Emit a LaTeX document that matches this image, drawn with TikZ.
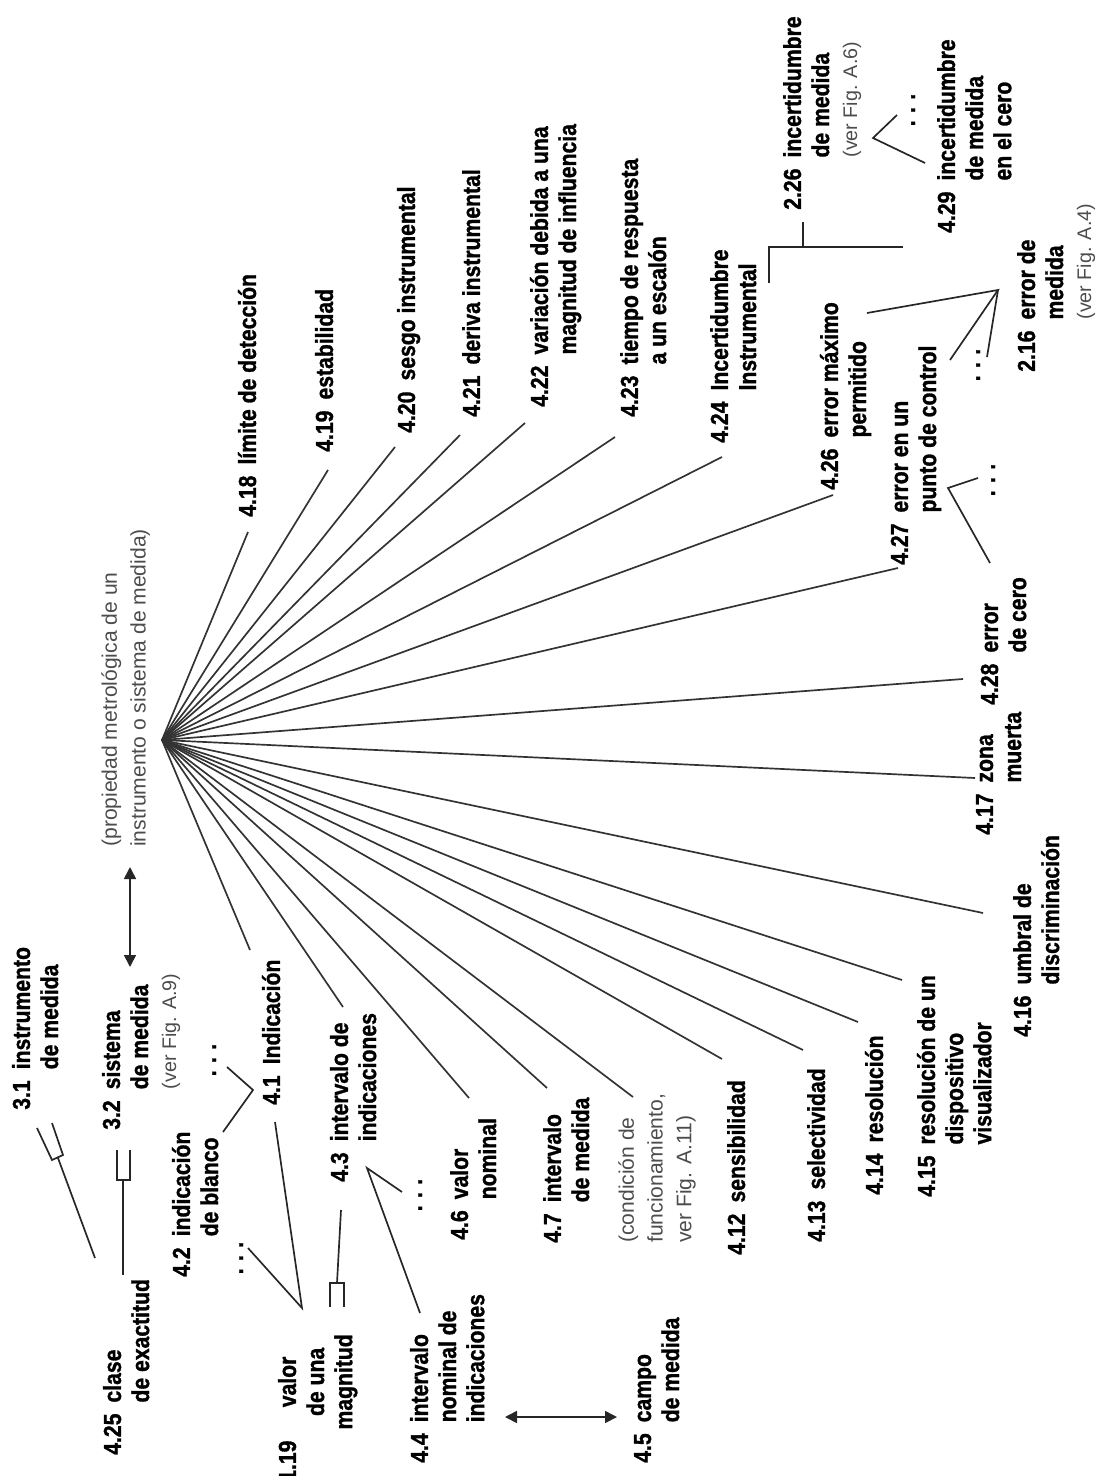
\documentclass[tikz,border=0pt]{standalone}
\usepackage{fontspec}
\setmainfont{Liberation Sans}
\newfontfamily\termfont[FakeStretch=0.86, BoldFeatures={FakeBold=1.2}]{Liberation Sans}
\usetikzlibrary{arrows.meta}

\definecolor{notegray}{gray}{0.3}
\newcommand{\vimterm}[3][l]{#2\hspace{0.45em}\begin{tabular}[t]{@{}#1@{}}#3\end{tabular}}
\newcommand{\vimnote}[1]{{\normalfont\fontsize{14}{20}\selectfont\color{notegray}#1}}
\newcommand{\etc}{.\hspace{0.3em}.\hspace{0.3em}.}

\begin{document}
\begin{tikzpicture}[x=0.25mm, y=-0.25mm,
    fan/.style={draw=black!80, line width=1.2pt},
    rel/.style={draw=black!85, line width=1.2pt},
    vimlabel/.style={rotate=90, anchor=north west, inner sep=0pt,
      font=\termfont\bfseries\fontsize{17.5}{20}\selectfont},
    vimremark/.style={rotate=90, anchor=north west, inner sep=0pt, align=left,
      text=notegray, font=\fontsize{15}{20.5}\selectfont},
    etcdots/.style={rotate=90, anchor=base, inner sep=0pt,
      font=\termfont\bfseries\fontsize{17.5}{20}\selectfont},
    twoway/.style={<->, >={Triangle[length=3mm,width=3mm]}, line width=1.2pt, draw=black!85}]
    \useasboundingbox (0,0) rectangle (1100,1476);

    % Centre of the fan
    \coordinate (hub) at (162,740);
    \node[vimremark] (prop) at (101,847) {(propiedad metrológica de un\\instrumento o sistema de medida)};

    % Labels round the fan
    \node[vimlabel] (n418) at (236,517) {\vimterm{4.18}{límite de detección}};
    \node[vimlabel] (n419) at (313,452) {\vimterm{4.19}{estabilidad}};
    \node[vimlabel] (n420) at (395,433) {\vimterm{4.20}{sesgo instrumental}};
    \node[vimlabel] (n421) at (460,417) {\vimterm{4.21}{deriva instrumental}};
    \node[vimlabel] (n422) at (528,407) {\vimterm{4.22}{variación debida a una\\magnitud de influencia}};
    \node[vimlabel] (n423) at (618,417) {\vimterm{4.23}{tiempo de respuesta\\a un escalón}};
    \node[vimlabel] (n424) at (708,443) {\vimterm{4.24}{Incertidumbre\\Instrumental}};
    \node[vimlabel] (n426) at (818,490) {\vimterm{4.26}{error máximo\\permitido}};
    \node[vimlabel] (n427) at (888,565) {\vimterm{4.27}{error en un\\punto de control}};
    \node[vimlabel] (n428) at (978,705) {\vimterm{4.28}{error\\de cero}};
    \node[vimlabel] (n417) at (973,835) {\vimterm{4.17}{zona\\muerta}};
    \node[vimlabel] (n416) at (1011,1037) {\vimterm{4.16}{umbral de\\discriminación}};
    \node[vimlabel] (n415) at (915,1197) {\vimterm{4.15}{resolución de un\\dispositivo\\visualizador}};
    \node[vimlabel] (n414) at (863,1195) {\vimterm{4.14}{resolución}};
    \node[vimlabel] (n413) at (805,1242) {\vimterm{4.13}{selectividad}};
    \node[vimlabel] (n412) at (725,1255) {\vimterm{4.12}{sensibilidad}};
    \node[vimremark] (cond) at (618,1243) {(condición de\\funcionamiento,\\ver Fig. A.11)};
    \node[vimlabel] (n47) at (541,1243) {\vimterm{4.7}{intervalo\\de medida}};
    \node[vimlabel] (n46) at (448,1240) {\vimterm{4.6}{valor\\nominal}};
    \node[vimlabel] (n43) at (328,1182) {\vimterm{4.3}{intervalo de\\indicaciones}};
    \node[vimlabel] (n41) at (260,1105) {\vimterm{4.1}{Indicación}};

    % Labels on the left and at the top
    \node[vimlabel] (n31) at (10,1110) {\vimterm{3.1}{instrumento\\de medida}};
    \node[vimlabel] (n32) at (100,1130) {\vimterm{3.2}{sistema\\de medida\\\vimnote{(ver Fig. A.9)}}};
    \node[vimlabel] (n425) at (101,1455) {\vimterm{4.25}{clase\\de exactitud}};
    \node[vimlabel] (n42) at (170,1277) {\vimterm{4.2}{indicación\\de blanco}};
    \node[vimlabel] (n119) at (276,1482) {\vimterm[c]{1.19}{valor\\de una\\magnitud}};
    \node[vimlabel] (n44) at (408,1463) {\vimterm{4.4}{intervalo\\nominal de\\indicaciones}};
    \node[vimlabel] (n45) at (631,1463) {\vimterm{4.5}{campo\\de medida}};
    \node[vimlabel] (n226) at (781,210) {\vimterm{2.26}{incertidumbre\\de medida\\\vimnote{(ver Fig. A.6)}}};
    \node[vimlabel] (n229) at (935,233) {\vimterm{4.29}{incertidumbre\\de medida\\en el cero}};
    \node[vimlabel] (n216) at (1015,372) {\vimterm{2.16}{error de\\medida\\\vimnote{(ver Fig. A.4)}}};

    % Dots for further concepts
    \node[etcdots] (d41) at (216,1060) {\etc};
    \node[etcdots] (d119) at (243,1258) {\etc};
    \node[etcdots] (d43) at (422,1195) {\etc};
    \node[etcdots] (d226) at (915,110) {\etc};
    \node[etcdots] (d427) at (995,480) {\etc};
    \node[etcdots] (d216) at (980,365) {\etc};

    % Ends of the fan lines
    \coordinate (e418) at (248,532);
    \coordinate (e419) at (328,470);
    \coordinate (e420) at (395,447);
    \coordinate (e421) at (460,435);
    \coordinate (e422) at (525,423);
    \coordinate (e423) at (615,437);
    \coordinate (e424) at (722,457);
    \coordinate (e426) at (833,495);
    \coordinate (e427) at (898,568);
    \coordinate (e428) at (963,679);
    \coordinate (e417) at (975,778);
    \coordinate (e416) at (983,913);
    \coordinate (e415) at (902,980);
    \coordinate (e414) at (858,1022);
    \coordinate (e413) at (803,1050);
    \coordinate (e412) at (722,1059);
    \coordinate (econd) at (633,1097);
    \coordinate (e47) at (547,1088);
    \coordinate (e46) at (469,1098);
    \coordinate (e43) at (343,1007);
    \coordinate (e41) at (250,950);

    \foreach \e in {e418,e419,e420,e421,e422,e423,e424,e426,e427,e428,e417,
        e416,e415,e414,e413,e412,econd,e47,e46,e43,e41}
        \draw[fan] (hub) -- (\e);

    % Ends of the relation lines
    \coordinate (f31a) at (37,1128);
    \coordinate (f31b) at (52,1160);
    \coordinate (f31c) at (63,1155);
    \coordinate (f31d) at (52,1123);
    \coordinate (f31s) at (58,1158);
    \coordinate (f425a) at (95,1258);
    \coordinate (f32a) at (117,1150);
    \coordinate (f32b) at (117,1180);
    \coordinate (f32c) at (130,1180);
    \coordinate (f32d) at (130,1150);
    \coordinate (f32s) at (123,1180);
    \coordinate (f425b) at (123,1275);
    \coordinate (f43) at (341,1210);
    \coordinate (f119s) at (337,1283);
    \coordinate (f119a) at (330,1307);
    \coordinate (f119b) at (330,1283);
    \coordinate (f119c) at (344,1283);
    \coordinate (f119d) at (344,1307);
    \coordinate (a42) at (223,1132);
    \coordinate (v41) at (253,1090);
    \coordinate (a41) at (227,1067);
    \coordinate (a41b) at (275,1122);
    \coordinate (v119) at (302,1308);
    \coordinate (a119) at (248,1248);
    \coordinate (v43) at (367,1168);
    \coordinate (a43) at (402,1192);
    \coordinate (a44) at (420,1313);
    \coordinate (v226) at (873,138);
    \coordinate (a226) at (897,115);
    \coordinate (a229) at (925,163);
    \coordinate (v427) at (948,488);
    \coordinate (a427) at (978,478);
    \coordinate (a428) at (990,563);
    \coordinate (v216) at (998,290);
    \coordinate (a426) at (867,313);
    \coordinate (a427b) at (950,360);
    \coordinate (a216) at (987,357);
    \coordinate (r424) at (769,283);
    \coordinate (r1) at (769,247);
    \coordinate (r2) at (903,247);
    \coordinate (r3) at (803,247);
    \coordinate (r226) at (803,222);

    % Partitive forks
    \draw[rel] (f31a) -- (f31b) -- (f31c) -- (f31d);
    \draw[rel] (f31s) -- (f425a);
    \draw[rel] (f32a) -- (f32b) -- (f32c) -- (f32d);
    \draw[rel] (f32s) -- (f425b);
    \draw[rel] (f43) -- (f119s);
    \draw[rel] (f119a) -- (f119b) -- (f119c) -- (f119d);

    % Generic angles
    \draw[rel] (a42) -- (v41) -- (a41);
    \draw[rel] (a41b) -- (v119) -- (a119);
    \draw[rel] (a43) -- (v43) -- (a44);
    \draw[rel] (a226) -- (v226) -- (a229);
    \draw[rel] (a427) -- (v427) -- (a428);
    \draw[rel] (a426) -- (v216) -- (a427b);
    \draw[rel] (v216) -- (a216);
    \draw[rel] (r424) -- (r1) -- (r2);
    \draw[rel] (r3) -- (r226);

    % Two-way arrows
    \coordinate (t1) at (130,867);
    \coordinate (t2) at (130,967);
    \coordinate (t3) at (505,1417);
    \coordinate (t4) at (617,1417);
    \draw[twoway] (t1) -- (t2);
    \draw[twoway] (t3) -- (t4);

\end{tikzpicture}
\end{document}
